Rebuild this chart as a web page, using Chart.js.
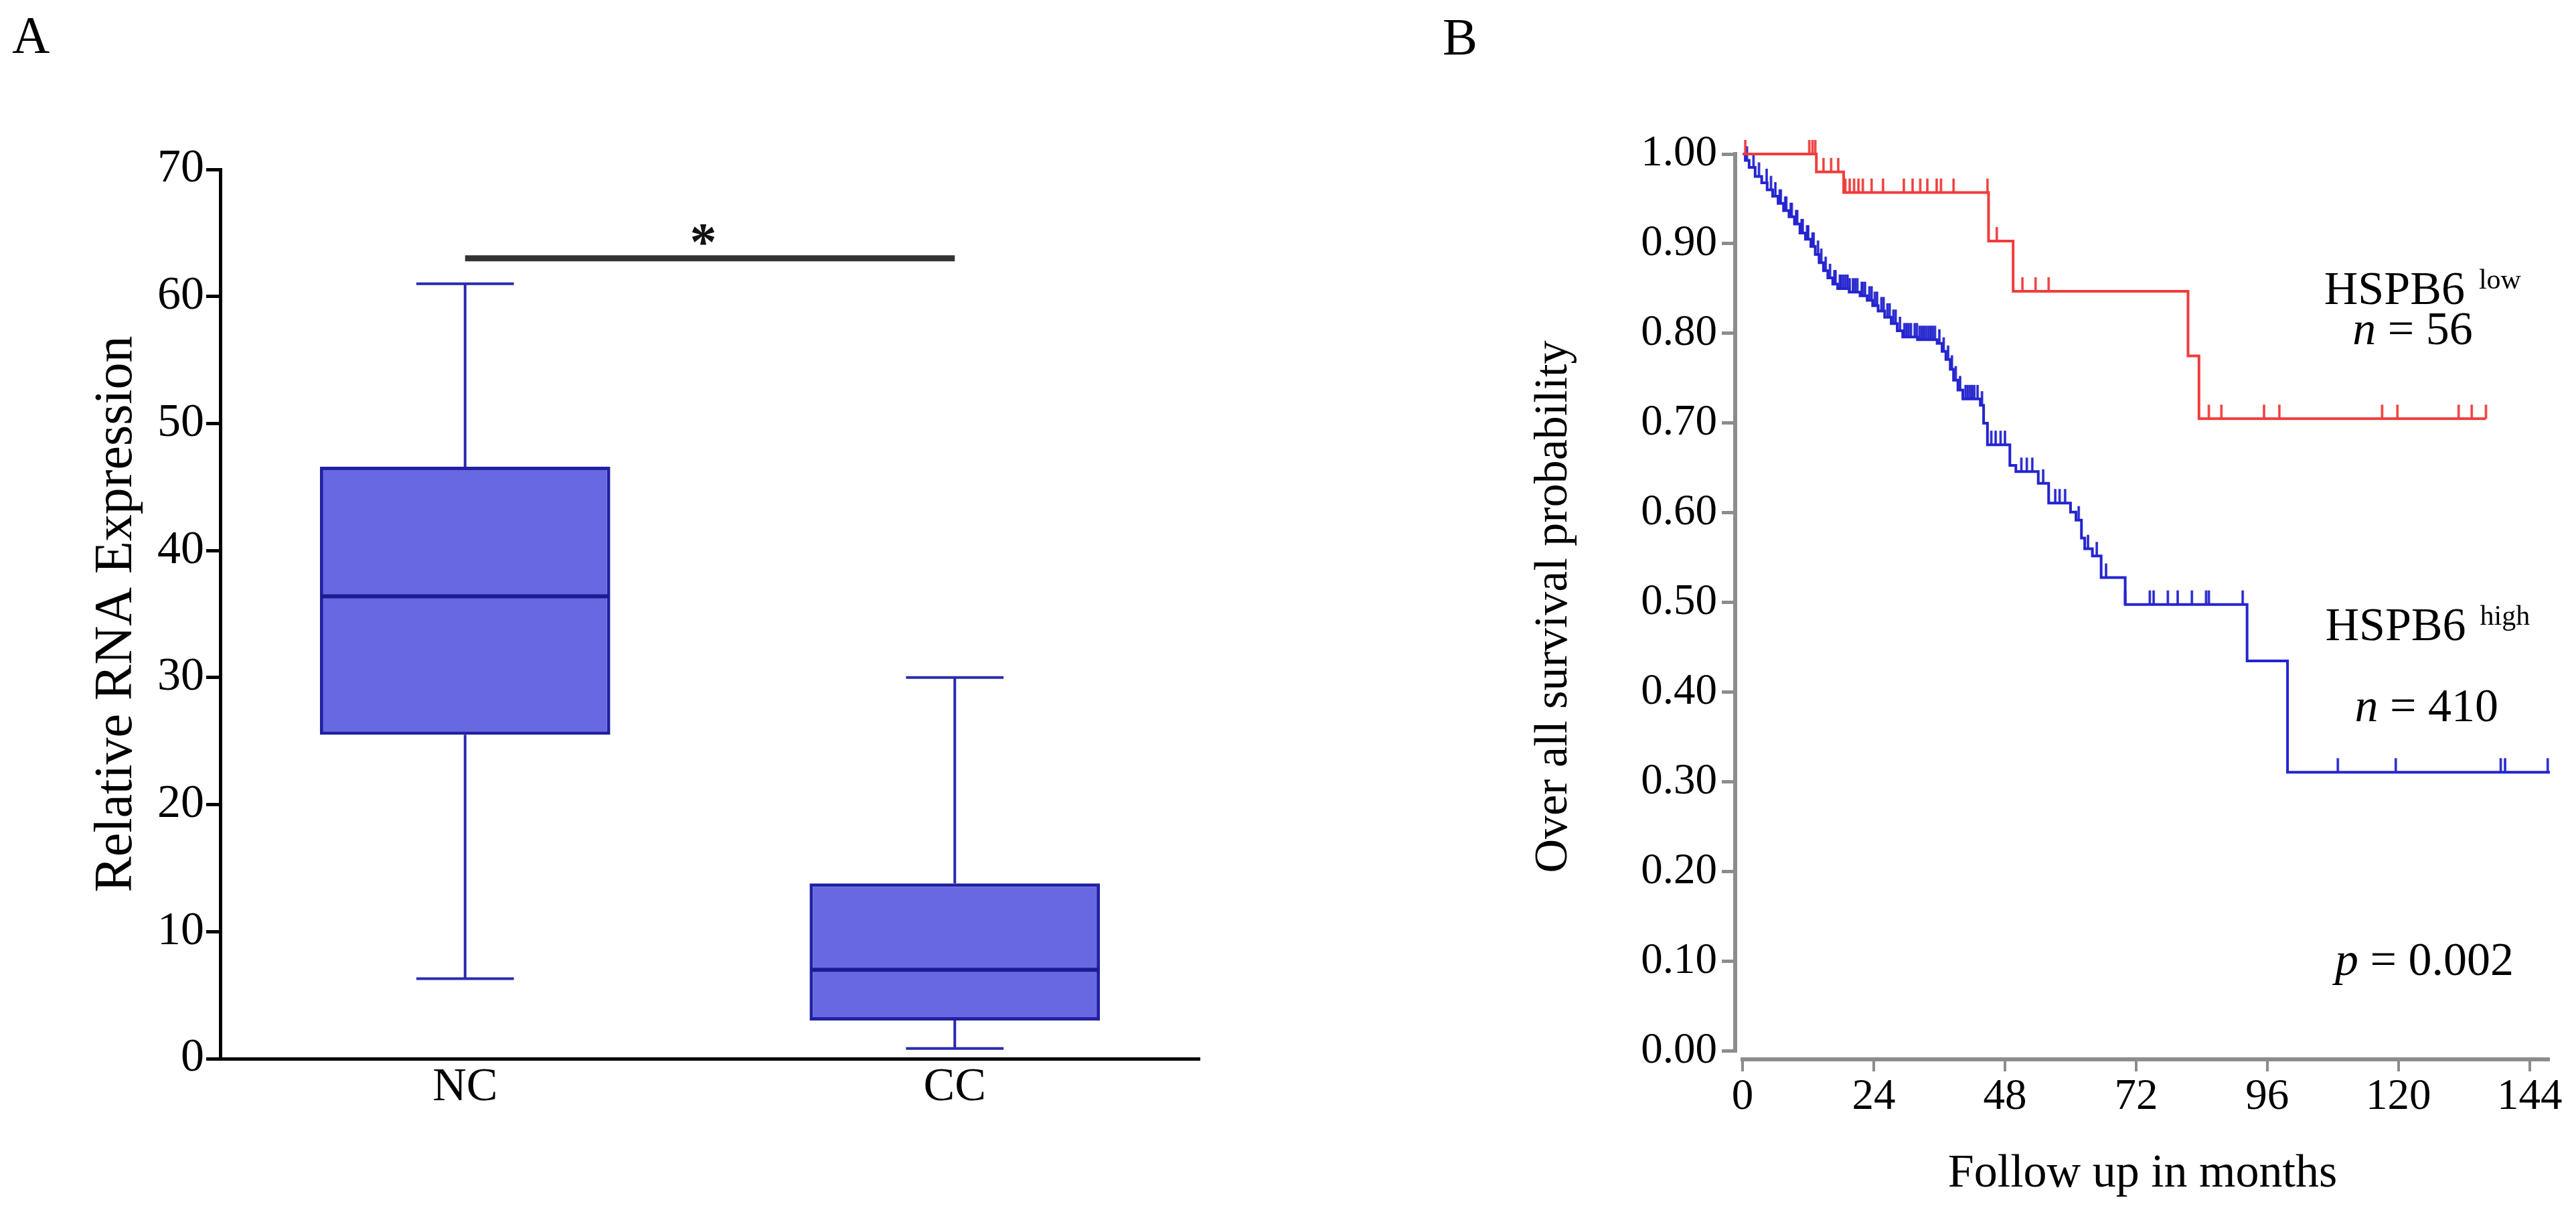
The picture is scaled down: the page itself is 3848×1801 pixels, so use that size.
<!DOCTYPE html>
<html>
<head>
<meta charset="utf-8">
<script src="https://cdn.jsdelivr.net/npm/chart.js@4.4.1/dist/chart.umd.min.js"></script>
<style>
  html, body { margin: 0; padding: 0; background: #fff; }
  body { width: 3848px; height: 1801px; position: relative; overflow: hidden;
         font-family: "Liberation Serif", "Times New Roman", serif; }
  canvas { position: absolute; top: 0; }
  #chartA { left: 0; }
  #chartB { left: 2100px; }
  .panel-letter { position: absolute; font-size: 78px; line-height: 1; color: #000; }
</style>
</head>
<body>
<div class="panel-letter" style="left:18px; top:13px;">A</div>
<div class="panel-letter" style="left:2155px; top:16px;">B</div>
<canvas id="chartA" width="1900" height="1801"></canvas>
<canvas id="chartB" width="1748" height="1801"></canvas>
<script>
const SERIF = '"Liberation Serif", "Times New Roman", serif';

// Panel A - box plot values
const categories = ['NC', 'CC'];
const whiskerLow = [6.3, 0.8];
const quartileLow = [25.5, 3.0];
const medians = [36.4, 7.0];
const quartileHigh = [46.6, 13.8];
const whiskerHigh = [61.0, 30.0];
const significanceLevel = 63;

// Panel B - Kaplan-Meier steps (months, survival)
const lowTimes = [0, 13.5, 18.5, 45.0, 49.5, 81.5, 83.5, 136.0];
const lowSurvival = [1.000, 0.980, 0.957, 0.903, 0.847, 0.775, 0.705, 0.705];
const lowCensored = [0.5, 12.2, 12.8, 13.3, 14.8, 16.2, 17.5, 18.8, 19.6, 20.4, 21.2, 22.0, 23.6,
  25.7, 29.5, 31.1, 32.5, 33.8, 35.5, 36.3, 38.6, 44.8, 46.5, 51.2, 53.6, 56.0,
  85.3, 87.6, 95.4, 98.2, 117.0, 119.8, 131.0, 133.4, 136.0];

const highTimes = [0, 0.5, 1.2, 2.3, 3.5, 4.5, 5.5, 6.5, 7.5, 8.5, 9.5, 10.5, 11.5, 12.5, 13.3,
  14.0, 14.8, 15.6, 16.5, 17.4, 19.5, 21.5, 22.8, 23.8, 24.8, 26.0, 27.2, 28.3, 29.3, 32.0,
  35.6, 36.5, 37.2, 38.0, 38.6, 39.4, 40.3, 43.5, 44.1, 44.8, 48.9, 50.0, 54.1, 56.0, 60.0,
  61.0, 62.0, 62.6, 64.0, 65.6, 70.0, 92.3, 99.7, 147.7];
const highSurvival = [1.000, 0.993, 0.985, 0.975, 0.968, 0.960, 0.953, 0.945, 0.937, 0.930, 0.922,
  0.912, 0.905, 0.897, 0.888, 0.879, 0.870, 0.862, 0.855, 0.850, 0.846, 0.842, 0.837, 0.831,
  0.825, 0.818, 0.811, 0.803, 0.796, 0.793, 0.789, 0.780, 0.771, 0.760, 0.748, 0.737, 0.727,
  0.720, 0.700, 0.676, 0.653, 0.646, 0.633, 0.611, 0.601, 0.592, 0.572, 0.560, 0.552, 0.528,
  0.498, 0.435, 0.311, 0.311];
const highCensored = [0.8, 2.0, 3.0, 4.4, 5.2, 6.0, 6.8, 7.0, 7.8, 8.0, 8.8, 9.0, 9.8, 10.0, 10.8,
  11.0, 11.8, 12.0, 12.8, 13.0, 13.8, 14.4, 15.2, 16.0, 16.8, 17.0, 17.8, 18.0, 18.4, 18.8,
  19.2, 19.6, 20.2, 20.6, 21.0, 21.8, 22.0, 22.4, 23.2, 23.6, 24.2, 24.6, 25.4, 25.8, 26.5,
  26.9, 27.6, 28.0, 28.8, 29.6, 30.0, 30.4, 30.8, 31.5, 31.9, 32.4, 32.8, 33.2, 33.6, 34.0,
  34.4, 34.8, 35.2, 36.0, 36.8, 37.6, 38.3, 39.0, 39.8, 40.8, 41.2, 41.6, 42.0, 42.4, 43.0,
  43.8, 45.5, 46.3, 47.2, 48.0, 51.0, 52.0, 53.0, 55.0, 57.2, 58.0, 59.0, 61.5, 63.2, 64.8,
  66.5, 70.0, 74.5, 75.2, 77.8, 79.6, 82.2, 84.8, 85.3, 91.5, 108.9, 119.5, 138.7, 139.5, 147.3];

const RED = '#f03c3c';
const BLUE = '#2424cf';
const AXIS_GREY = '#8c8c8c';

// survival value at time t (step lookup)
function survivalAt(times, surv, t) {
    let v = surv[0];
    for (let i = 0; i < times.length; i++) {
        if (times[i] <= t) v = surv[i];
    }
    return v;
}

// small vertical tick drawn above the curve (censor mark)
function censorMark(color) {
    const c = document.createElement('canvas');
    c.width = 8;
    c.height = 44;
    const g = c.getContext('2d');
    g.strokeStyle = color;
    g.lineWidth = 3.5;
    g.beginPath();
    g.moveTo(4, 1);
    g.lineTo(4, 22);
    g.stroke();
    return c;
}

const boxWhiskerPlugin = {
    id: 'boxWhisker',
    afterDatasetsDraw(chart) {
        const ctx = chart.ctx;
        const y = chart.scales.y;
        const bars = chart.getDatasetMeta(0).data;
        ctx.save();
        bars.forEach((bar, i) => {
            const half = bar.width / 2;
            const cap = bar.width * 0.168;
            const yMax = y.getPixelForValue(whiskerHigh[i]);
            const yMin = y.getPixelForValue(whiskerLow[i]);
            ctx.strokeStyle = '#2b2bb0';
            ctx.lineWidth = 4;
            ctx.beginPath();
            ctx.moveTo(bar.x, y.getPixelForValue(quartileHigh[i]));
            ctx.lineTo(bar.x, yMax);
            ctx.moveTo(bar.x, y.getPixelForValue(quartileLow[i]));
            ctx.lineTo(bar.x, yMin);
            ctx.moveTo(bar.x - cap, yMax);
            ctx.lineTo(bar.x + cap, yMax);
            ctx.moveTo(bar.x - cap, yMin);
            ctx.lineTo(bar.x + cap, yMin);
            ctx.stroke();

            const yMed = y.getPixelForValue(medians[i]);
            ctx.strokeStyle = '#1c1c92';
            ctx.lineWidth = 6;
            ctx.beginPath();
            ctx.moveTo(bar.x - half + 2, yMed);
            ctx.lineTo(bar.x + half - 2, yMed);
            ctx.stroke();
        });

        // significance bar
        const ys = y.getPixelForValue(significanceLevel);
        ctx.strokeStyle = '#333';
        ctx.lineWidth = 9;
        ctx.beginPath();
        ctx.moveTo(bars[0].x, ys);
        ctx.lineTo(bars[1].x, ys);
        ctx.stroke();
        ctx.fillStyle = '#111';
        ctx.font = 'bold 80px ' + SERIF;
        ctx.textAlign = 'center';
        ctx.textBaseline = 'alphabetic';
        ctx.fillText('*', (bars[0].x + bars[1].x) / 2 - 10, ys + 2);
        ctx.restore();
    }
};

// axis lines of panel B start at the zero values, leaving a small gap at the corner
const offsetAxesPlugin = {
    id: 'offsetAxes',
    beforeDatasetsDraw(chart) {
        const ctx = chart.ctx;
        const xs = chart.scales.x;
        const ys = chart.scales.y;
        const area = chart.chartArea;
        ctx.save();
        ctx.strokeStyle = AXIS_GREY;
        ctx.lineWidth = 6;
        ctx.beginPath();
        ctx.moveTo(area.left, ys.getPixelForValue(0) + 2);
        ctx.lineTo(area.left, ys.getPixelForValue(1) - 3);
        ctx.moveTo(xs.getPixelForValue(0) - 3, area.bottom);
        ctx.lineTo(area.right, area.bottom);
        ctx.stroke();
        ctx.restore();
    }
};

// text labels in panel B, placed in data coordinates
const notesB = [
    { month: 106.4, prob: 0.833, runs: [{ text: 'HSPB6' }, { text: 'low', size: 42, rise: 23, gap: 21 }] },
    { month: 111.6, prob: 0.788, runs: [{ text: 'n', italic: true }, { text: ' = 56' }] },
    { month: 106.6, prob: 0.458, runs: [{ text: 'HSPB6' }, { text: 'high', size: 42, rise: 23, gap: 21 }] },
    { month: 112.0, prob: 0.368, runs: [{ text: 'n', italic: true }, { text: ' = 410' }] },
    { month: 108.4, prob: 0.085, runs: [{ text: 'p', italic: true }, { text: ' = 0.002' }] }
];

const notesPlugin = {
    id: 'notes',
    afterDatasetsDraw(chart) {
        const ctx = chart.ctx;
        const xs = chart.scales.x;
        const ys = chart.scales.y;
        ctx.save();
        ctx.fillStyle = '#000';
        ctx.textAlign = 'left';
        ctx.textBaseline = 'alphabetic';
        notesB.forEach(n => {
            let cx = xs.getPixelForValue(n.month);
            const by = ys.getPixelForValue(n.prob);
            n.runs.forEach(r => {
                ctx.font = (r.italic ? 'italic ' : '') + (r.size || 70) + 'px ' + SERIF;
                cx += r.gap || 0;
                ctx.fillText(r.text, cx, by - (r.rise || 0));
                cx += ctx.measureText(r.text).width;
            });
        });
        ctx.restore();
    }
};

// Panel A - box plot
new Chart(document.getElementById('chartA'), {
    type: 'bar',
    data: {
        labels: categories,
        datasets: [{
            data: categories.map((c, i) => [quartileLow[i], quartileHigh[i]]),
            backgroundColor: '#6868e2',
            borderColor: '#2020a2',
            borderWidth: 5,
            borderSkipped: false,
            barPercentage: 0.593,
            categoryPercentage: 1
        }]
    },
    options: {
        responsive: false,
        animation: false,
        devicePixelRatio: 1,
        layout: { padding: { top: 253, right: 108, bottom: 0, left: 0 } },
        plugins: { legend: { display: false }, tooltip: { enabled: false } },
        scales: {
            x: {
                grid: { display: false, drawTicks: false },
                border: { display: true, color: '#000', width: 5 },
                ticks: { color: '#000', font: { family: SERIF, size: 70 }, padding: 2 },
                afterFit(s) { s.height = 220; }
            },
            y: {
                min: 0,
                max: 70,
                ticks: { stepSize: 10, color: '#000', font: { family: SERIF, size: 70 }, padding: 3 },
                grid: { drawOnChartArea: false, color: '#000', lineWidth: 5, tickLength: 21 },
                border: { color: '#000', width: 5 },
                title: {
                    display: true,
                    text: 'Relative RNA Expression',
                    color: '#000',
                    font: { family: SERIF, size: 80 },
                    padding: { top: 127, bottom: 0 }
                },
                afterFit(s) { s.width = 329; }
            }
        }
    },
    plugins: [boxWhiskerPlugin]
});

// Panel B - survival curves
new Chart(document.getElementById('chartB'), {
    type: 'line',
    data: {
        datasets: [
            {
                data: lowTimes.map((t, i) => ({ x: t, y: lowSurvival[i] })),
                borderColor: RED,
                borderWidth: 4,
                stepped: 'before',
                pointRadius: 0,
                fill: false,
                clip: false
            },
            {
                data: highTimes.map((t, i) => ({ x: t, y: highSurvival[i] })),
                borderColor: BLUE,
                borderWidth: 4,
                stepped: 'before',
                pointRadius: 0,
                fill: false,
                clip: false
            },
            {
                data: lowCensored.map(t => ({ x: t, y: survivalAt(lowTimes, lowSurvival, t) })),
                showLine: false,
                pointStyle: censorMark(RED),
                pointRadius: 3,
                clip: false
            },
            {
                data: highCensored.map(t => ({ x: t, y: survivalAt(highTimes, highSurvival, t) })),
                showLine: false,
                pointStyle: censorMark(BLUE),
                pointRadius: 3,
                clip: false
            }
        ]
    },
    options: {
        responsive: false,
        animation: false,
        devicePixelRatio: 1,
        layout: { padding: { top: 230, right: 39, bottom: 0, left: 0 } },
        plugins: { legend: { display: false }, tooltip: { enabled: false } },
        scales: {
            x: {
                type: 'linear',
                min: -1.35,
                max: 147.7,
                ticks: {
                    stepSize: 24,
                    includeBounds: false,
                    color: '#000',
                    font: { family: SERIF, size: 65 },
                    padding: 0
                },
                grid: { drawOnChartArea: false, color: AXIS_GREY, lineWidth: 4, tickLength: 18 },
                border: { display: false },
                title: {
                    display: true,
                    text: 'Follow up in months',
                    color: '#000',
                    font: { family: SERIF, size: 70 },
                    padding: { top: 0, bottom: 5 }
                },
                afterFit(s) { s.height = 219; }
            },
            y: {
                type: 'linear',
                min: -0.009,
                max: 1.0,
                ticks: {
                    stepSize: 0.1,
                    includeBounds: false,
                    color: '#000',
                    font: { family: SERIF, size: 65 },
                    padding: 7,
                    callback: v => v.toFixed(2)
                },
                grid: { drawOnChartArea: false, color: AXIS_GREY, lineWidth: 5, tickLength: 20 },
                border: { display: false },
                title: {
                    display: true,
                    text: 'Over all survival probability',
                    color: '#000',
                    font: { family: SERIF, size: 70 },
                    padding: { top: 180, bottom: 0 }
                },
                afterFit(s) { s.width = 492; }
            }
        }
    },
    plugins: [offsetAxesPlugin, notesPlugin]
});
</script>
</body>
</html>
